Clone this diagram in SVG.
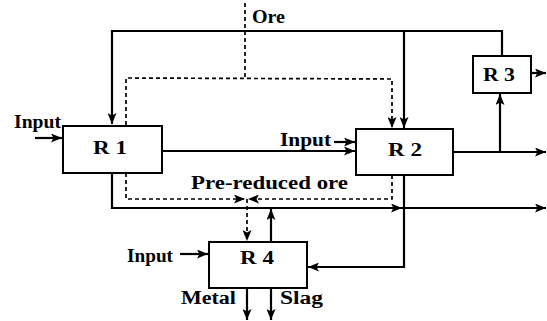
<svg xmlns="http://www.w3.org/2000/svg" width="547" height="321" viewBox="0 0 547 321">
<style>
.box{fill:#fff;stroke:#000;stroke-width:2}
.ln{fill:none;stroke:#000;stroke-width:2.2}
.ds{fill:none;stroke:#000;stroke-width:1.7;stroke-dasharray:4,3}
.t{font-family:"Liberation Serif","Times New Roman",serif;font-weight:bold;font-size:18px;fill:#000}
.r{font-size:19px}
</style>
<defs>
<marker id="a" markerUnits="userSpaceOnUse" markerWidth="11" markerHeight="9" refX="11" refY="4.5" orient="auto">
<path d="M0,0 L11,4.5 L0,9 L2.5,4.5 z" fill="#000"/>
</marker>
</defs>
<g id="connectors">
<polyline class="ln" points="502,56 502,31 112,31 112,124" marker-end="url(#a)"/>
<line class="ln" x1="404" y1="31" x2="404" y2="128" marker-end="url(#a)"/>
<line class="ds" x1="245" y1="3" x2="245" y2="78"/>
<polyline class="ds" points="126,125 126,78 392,79 392,128" marker-start="url(#a)" marker-end="url(#a)"/>
<line class="ln" x1="35" y1="138" x2="62" y2="138" marker-end="url(#a)"/>
<line class="ln" x1="334" y1="142" x2="355" y2="142" marker-end="url(#a)"/>
<line class="ln" x1="162" y1="151" x2="355" y2="151" marker-end="url(#a)"/>
<line class="ln" x1="453" y1="152" x2="546" y2="152" marker-end="url(#a)"/>
<line class="ln" x1="500" y1="152" x2="500" y2="94" marker-end="url(#a)"/>
<line class="ln" x1="531" y1="73" x2="546" y2="73" marker-end="url(#a)"/>
<polyline class="ln" points="112,174 112,208 402,208" marker-start="url(#a)" marker-end="url(#a)"/>
<line class="ln" x1="400" y1="208" x2="546" y2="208" marker-end="url(#a)"/>
<polyline class="ln" points="404,176 404,267 308,267" marker-start="url(#a)" marker-end="url(#a)"/>
<line class="ln" x1="271" y1="242" x2="271" y2="209" marker-end="url(#a)"/>
<polyline class="ds" points="126,173 126,199 245,199" marker-end="url(#a)"/>
<polyline class="ds" points="392,175 392,199 248,199" marker-end="url(#a)"/>
<line class="ds" x1="247" y1="199" x2="247" y2="241" marker-end="url(#a)"/>
<line class="ln" x1="180" y1="254" x2="208" y2="254" marker-end="url(#a)"/>
<line class="ln" x1="247" y1="288" x2="247" y2="320" marker-end="url(#a)"/>
<line class="ln" x1="271" y1="288" x2="271" y2="320" marker-end="url(#a)"/>
</g>
<g id="labels">
<text class="t" x="252" y="23" textLength="33" lengthAdjust="spacingAndGlyphs">Ore</text>
<text class="t" x="14" y="128" textLength="47" lengthAdjust="spacingAndGlyphs">Input</text>
<text class="t" x="280" y="146" textLength="51" lengthAdjust="spacingAndGlyphs">Input</text>
<text class="t" x="191" y="189" textLength="157" lengthAdjust="spacingAndGlyphs">Pre-reduced ore</text>
<text class="t" x="127" y="262" textLength="46" lengthAdjust="spacingAndGlyphs">Input</text>
<text class="t" x="181" y="304" textLength="55" lengthAdjust="spacingAndGlyphs">Metal</text>
<text class="t" x="280" y="304" textLength="43" lengthAdjust="spacingAndGlyphs">Slag</text>
</g>
<g id="R1">
<rect class="box" x="63" y="126" width="99" height="47"/>
<text class="t r" x="93" y="154" textLength="34" lengthAdjust="spacingAndGlyphs">R 1</text>
</g>
<g id="R2">
<rect class="box" x="356" y="129" width="97" height="46"/>
<text class="t r" x="388" y="156" textLength="34" lengthAdjust="spacingAndGlyphs">R 2</text>
</g>
<g id="R3">
<rect class="box" x="473" y="56" width="58" height="37"/>
<text class="t r" x="483" y="81" textLength="32" lengthAdjust="spacingAndGlyphs">R 3</text>
</g>
<g id="R4">
<rect class="box" x="209" y="242" width="98" height="46"/>
<text class="t r" x="240" y="264" textLength="34" lengthAdjust="spacingAndGlyphs">R 4</text>
</g>
</svg>
